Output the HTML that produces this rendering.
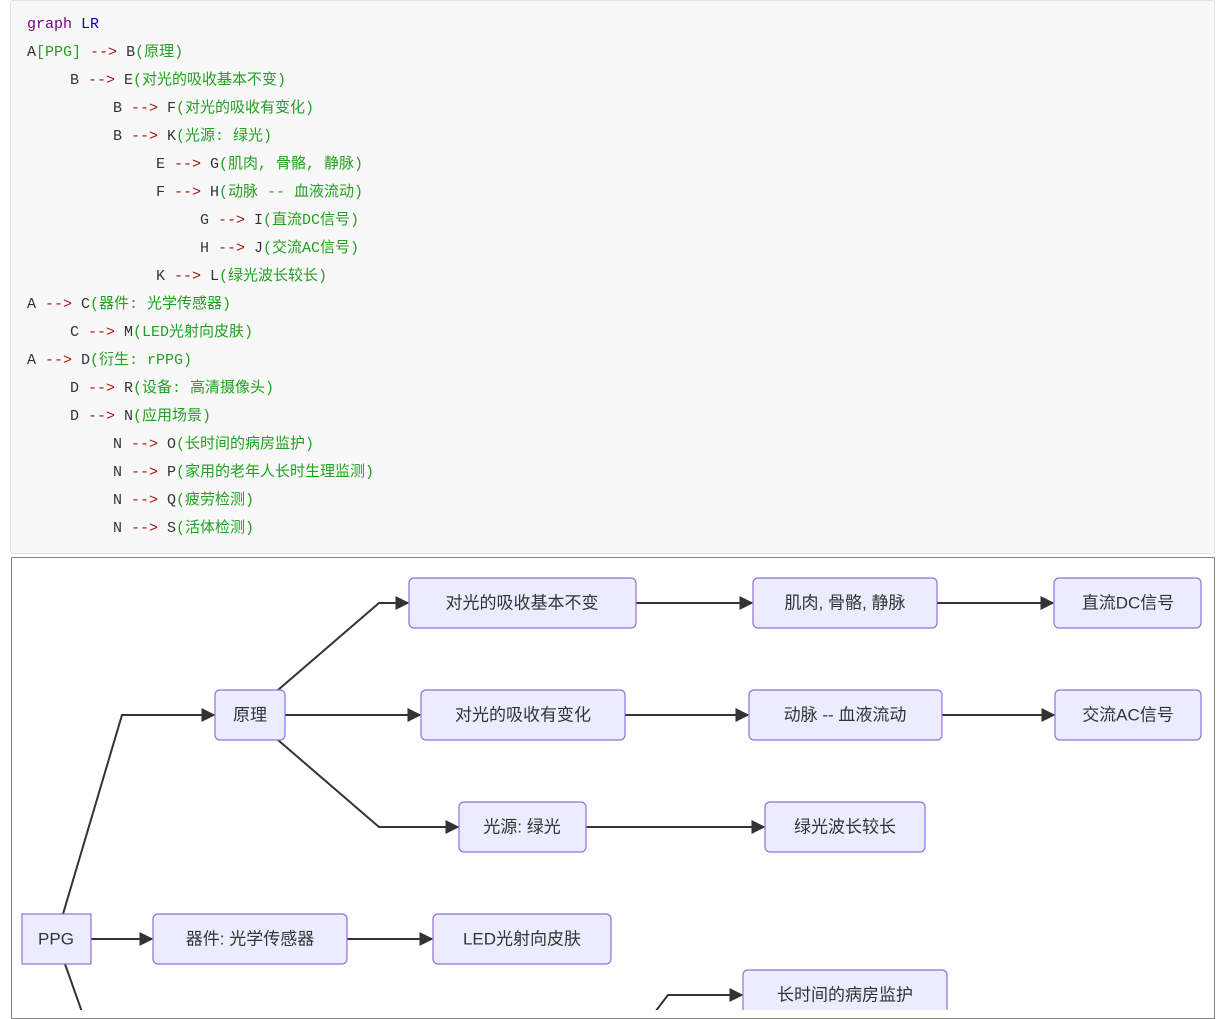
<!DOCTYPE html>
<html><head><meta charset="utf-8"><style>
body{margin:0;width:1218px;height:1010px;overflow:hidden;background:#fff;position:relative}
.code{position:absolute;left:10px;top:0;width:1203px;height:552px;background:#f8f8f8;border:1px solid #e3e3e3;border-radius:3px}
.l{position:absolute;font-family:"Liberation Mono","Noto Sans CJK SC",monospace;font-size:15px;color:#333;white-space:pre;line-height:20px}
.k{color:#770088}.b{color:#0000cc}.a{color:#a11}.g{color:#22a022}
.dia{position:absolute;left:11px;top:557px;width:1202px;height:460px;border:1px solid #888}
svg{position:absolute;left:0;top:0}
text{font-family:"Liberation Sans","Noto Sans CJK SC",sans-serif;font-size:17px;fill:#333;text-anchor:middle;dominant-baseline:central}
</style></head><body>
<div class="code"></div>
<div class="l" style="left:27px;top:15px"><span class="k">graph</span> <span class="b">LR</span></div>
<div class="l" style="left:27px;top:43px">A<span class="g">[PPG]</span> <span class="a">--&gt;</span> B<span class="g">(原理)</span></div>
<div class="l" style="left:70px;top:71px">B <span class="a">--&gt;</span> E<span class="g">(对光的吸收基本不变)</span></div>
<div class="l" style="left:113px;top:99px">B <span class="a">--&gt;</span> F<span class="g">(对光的吸收有变化)</span></div>
<div class="l" style="left:113px;top:127px">B <span class="a">--&gt;</span> K<span class="g">(光源: 绿光)</span></div>
<div class="l" style="left:156px;top:155px">E <span class="a">--&gt;</span> G<span class="g">(肌肉, 骨骼, 静脉)</span></div>
<div class="l" style="left:156px;top:183px">F <span class="a">--&gt;</span> H<span class="g">(动脉 -- 血液流动)</span></div>
<div class="l" style="left:200px;top:211px">G <span class="a">--&gt;</span> I<span class="g">(直流DC信号)</span></div>
<div class="l" style="left:200px;top:239px">H <span class="a">--&gt;</span> J<span class="g">(交流AC信号)</span></div>
<div class="l" style="left:156px;top:267px">K <span class="a">--&gt;</span> L<span class="g">(绿光波长较长)</span></div>
<div class="l" style="left:27px;top:295px">A <span class="a">--&gt;</span> C<span class="g">(器件: 光学传感器)</span></div>
<div class="l" style="left:70px;top:323px">C <span class="a">--&gt;</span> M<span class="g">(LED光射向皮肤)</span></div>
<div class="l" style="left:27px;top:351px">A <span class="a">--&gt;</span> D<span class="g">(衍生: rPPG)</span></div>
<div class="l" style="left:70px;top:379px">D <span class="a">--&gt;</span> R<span class="g">(设备: 高清摄像头)</span></div>
<div class="l" style="left:70px;top:407px">D <span class="a">--&gt;</span> N<span class="g">(应用场景)</span></div>
<div class="l" style="left:113px;top:435px">N <span class="a">--&gt;</span> O<span class="g">(长时间的病房监护)</span></div>
<div class="l" style="left:113px;top:463px">N <span class="a">--&gt;</span> P<span class="g">(家用的老年人长时生理监测)</span></div>
<div class="l" style="left:113px;top:491px">N <span class="a">--&gt;</span> Q<span class="g">(疲劳检测)</span></div>
<div class="l" style="left:113px;top:519px">N <span class="a">--&gt;</span> S<span class="g">(活体检测)</span></div>
<div class="dia"></div>
<svg width="1218" height="1010">
<defs><marker id="m" viewBox="0 0 10 10" refX="9" refY="5" markerWidth="7" markerHeight="7" orient="auto"><path d="M0,0L10,5L0,10z" fill="#333"/></marker></defs>
<g fill="none" stroke="#333" stroke-width="2" marker-end="url(#m)">
<path d="M63,914L122,715L214,715"/>
<path d="M278,690L379,603L408,603"/>
<path d="M285,715L420,715"/>
<path d="M278,740L379,827L458,827"/>
<path d="M636,603L752,603"/><path d="M625,715L748,715"/><path d="M586,827L764,827"/>
<path d="M937,603L1053,603"/><path d="M942,715L1054,715"/>
<path d="M91,939L152,939"/><path d="M347,939L432,939"/>
<path d="M655,1012L668,995L742,995"/>
</g>
<path d="M65,964L82,1012" stroke="#333" stroke-width="2" fill="none"/>
<g fill="#ECECFF" stroke="#9370DB" stroke-width="1.2">
<rect x="22" y="914" width="69" height="50"/>
<rect x="215" y="690" width="70" height="50" rx="5"/>
<rect x="409" y="578" width="227" height="50" rx="5"/>
<rect x="421" y="690" width="204" height="50" rx="5"/>
<rect x="459" y="802" width="127" height="50" rx="5"/>
<rect x="753" y="578" width="184" height="50" rx="5"/>
<rect x="749" y="690" width="193" height="50" rx="5"/>
<rect x="765" y="802" width="160" height="50" rx="5"/>
<rect x="1054" y="578" width="147" height="50" rx="5"/>
<rect x="1055" y="690" width="146" height="50" rx="5"/>
<rect x="153" y="914" width="194" height="50" rx="5"/>
<rect x="433" y="914" width="178" height="50" rx="5"/>
<rect x="743" y="970" width="204" height="50" rx="5"/>
</g>
<text x="56" y="939">PPG</text>
<text x="250" y="715">原理</text>
<text x="522" y="603">对光的吸收基本不变</text>
<text x="523" y="715">对光的吸收有变化</text>
<text x="522" y="827">光源: 绿光</text>
<text x="845" y="603">肌肉, 骨骼, 静脉</text>
<text x="845" y="715">动脉 -- 血液流动</text>
<text x="845" y="827">绿光波长较长</text>
<text x="1128" y="603">直流DC信号</text>
<text x="1128" y="715">交流AC信号</text>
<text x="250" y="939">器件: 光学传感器</text>
<text x="522" y="939">LED光射向皮肤</text>
<text x="845" y="995">长时间的病房监护</text>
</svg>
</body></html>
